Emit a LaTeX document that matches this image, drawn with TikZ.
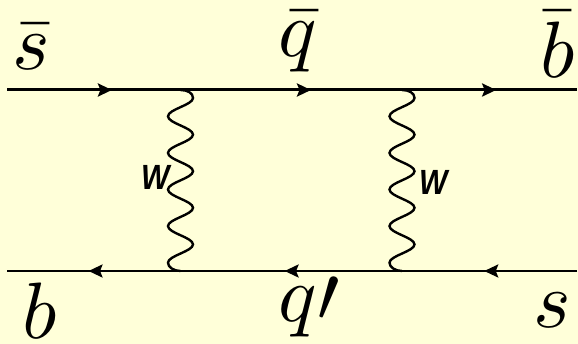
\documentclass[tikz,border=0pt]{standalone}
\usepackage{amsmath, amssymb}
\usepackage{fontspec}
\usetikzlibrary{arrows.meta, positioning, decorations.markings}
\newfontfamily\bosonfont{Liberation Sans}
\definecolor{cBg}{HTML}{FFFFD9}
\begin{document}
\begin{tikzpicture}[x=1pt, y=-1pt,
        quark/.style = {draw=black, line width=#1, postaction={decorate}, decoration={markings, mark=at position 0.53 with {\arrow{Stealth[length=14pt, width=13pt, inset=2.5pt]}}}},
        boson/.style = {draw=black, line width=2.4pt},
        flavour/.style = {inner sep=0pt, anchor=base west, scale=8},
        wlabel/.style = {inner sep=0pt, anchor=base west, font=\bosonfont\bfseries\itshape, xscale=3, yscale=3.5} ]
      \fill[cBg] (0,0) rectangle (578,344);
      \useasboundingbox (0,0) rectangle (578,344);
      % upper line
      \coordinate (ta) at (7,90);
      \coordinate (tb) at (205,90);
      \coordinate (tc) at (405,90);
      \coordinate (td) at (577,90);
      % lower line
      \coordinate (ba) at (577,271);
      \coordinate (bb) at (402,271);
      \coordinate (bc) at (180.5,271);
      \coordinate (bd) at (7,271);
      % tops of the wavy lines
      \coordinate (wa) at (180.5,90);
      \coordinate (wb) at (402,90);
      \draw[quark=3pt] (ta) -- (tb);
      \draw[quark=3pt] (tb) -- (tc);
      \draw[quark=3pt] (tc) -- (td);
      \draw[quark=2.4pt] (ba) -- (bb);
      \draw[quark=2.4pt] (bb) -- (bc);
      \draw[quark=2.4pt] (bc) -- (bd);
      \draw[boson, shift={(wa)}] (wa) .. controls (7,0) and (12.5,3) .. (12.5,8)
        \foreach \y in {8,44.6,81.2,117.8} {
          .. controls (12.5,\y+7) and (-12.5,\y+11.3) .. (-12.5,\y+18.3)
          .. controls (-12.5,\y+25.3) and (12.5,\y+29.6) .. (12.5,\y+36.6) }
        .. controls (12.5,161.4) and (-12.5,165.7) .. (-12.5,172.7)
        .. controls (-12.5,177) and (-7,181) .. (bc);
      \draw[boson, shift={(wb)}] (wb) .. controls (7,0) and (12.5,3) .. (12.5,8)
        \foreach \y in {8,44.6,81.2,117.8} {
          .. controls (12.5,\y+7) and (-12.5,\y+11.3) .. (-12.5,\y+18.3)
          .. controls (-12.5,\y+25.3) and (12.5,\y+29.6) .. (12.5,\y+36.6) }
        .. controls (12.5,161.4) and (-12.5,165.7) .. (-12.5,172.7)
        .. controls (-12.5,177) and (-7,181) .. (bb);
      \node[flavour] (sbar) at (11,70) {$\bar{s}$};
      \node[flavour] (qbar) at (277,57) {$\bar{q}$};
      \node[flavour] (bbar) at (539,78) {$\bar{b}$};
      \node[flavour] (bot) at (21,338) {$b$};
      \node[flavour] (qpr) at (277,322) {$q\prime$};
      \node[flavour] (str) at (532,327) {$s$};
      \node[wlabel] (wl) at (141,190) {W};
      \node[wlabel] (wr) at (419,195) {W};
    \end{tikzpicture}
\end{document}
